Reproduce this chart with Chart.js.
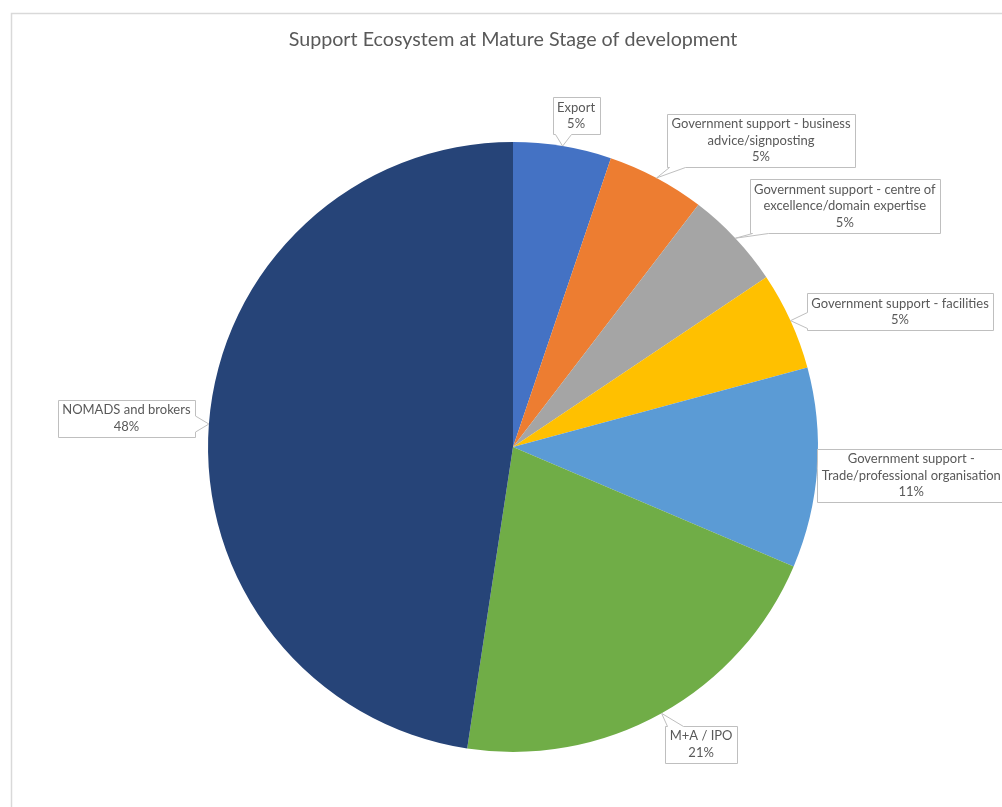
<!DOCTYPE html>
<html>
<head>
<meta charset="utf-8">
<title>Support Ecosystem at Mature Stage of development</title>
<script src="https://cdn.jsdelivr.net/npm/chart.js@4/dist/chart.umd.min.js"></script>
<style>
    html, body { margin: 0; padding: 0; background: #ffffff; }
    #grafica { width: 1002px; height: 807px; }
</style>
</head>
<body>
<div id="grafica"><canvas id="myChart" width="1002" height="807"></canvas></div>
<script>
var titulo = 'Support Ecosystem at Mature Stage of development'

// one entry per slice, each label already split into its lines
var categorias = [
    ['Export'],
    ['Government support - business', 'advice/signposting'],
    ['Government support - centre of', 'excellence/domain expertise'],
    ['Government support - facilities'],
    ['Government support -', 'Trade/professional organisation'],
    ['M+A / IPO'],
    ['NOMADS and brokers']
]
var valores = [5.2, 5.2, 5.2, 5.2, 10.6, 21.0, 47.6]

var colores = ['#4472C4', '#ED7D31', '#A5A5A5', '#FFC000', '#5B9BD5', '#70AD47', '#264478']

// where each callout box sits, measured from the middle of its slice's outer edge
var desplazamientos = [
    [13.5, -30.5],
    [104.5, -37.5],
    [109.5, -32],
    [109.5, -9],
    [94, 7.5],
    [39.5, 31],
    [-82.5, -5.5]
]

var gris_texto = '#595959'

function porcentaje(v) {
    var total = valores.reduce(function (a, b) { return a + b }, 0)
    return Math.round(v / total * 100) + '%'
}

// light frame around the chart
var marco = {
    id: 'marco',
    beforeDraw: function (chart) {
        var ctx = chart.ctx
        ctx.save()
        ctx.fillStyle = '#ffffff'
        ctx.fillRect(0, 0, chart.width, chart.height)
        ctx.strokeStyle = '#d9d9d9'
        ctx.lineWidth = 1.5
        ctx.strokeRect(11.5, 13.5, chart.width + 50, chart.height + 50)
        ctx.restore()
    }
}

// callout boxes with a pointer towards the slice
var etiquetas = {
    id: 'etiquetas',
    afterDatasetsDraw: function (chart) {
        var ctx = chart.ctx
        var meta = chart.getDatasetMeta(0)
        var alto_linea = 16.5
        ctx.save()
        ctx.font = '13px Lato'
        meta.data.forEach(function (arco, i) {
            var p = arco.getProps(['x', 'y', 'startAngle', 'endAngle', 'outerRadius'], true)
            var medio = (p.startAngle + p.endAngle) / 2
            var ax = p.x + Math.cos(medio) * p.outerRadius
            var ay = p.y + Math.sin(medio) * p.outerRadius

            var lineas = categorias[i].concat([porcentaje(valores[i])])
            var ancho = 0
            lineas.forEach(function (l) { ancho = Math.max(ancho, ctx.measureText(l).width) })
            ancho = ancho + 9
            var alto = lineas.length * alto_linea + 4

            var cx = ax + desplazamientos[i][0]
            var cy = ay + desplazamientos[i][1]
            var L = Math.round(cx - ancho / 2) + 0.5
            var R = Math.round(cx + ancho / 2) + 0.5
            var T = Math.round(cy - alto / 2) + 0.5
            var B = Math.round(cy + alto / 2) + 0.5

            var lado
            if (ay > B) lado = 'abajo'
            else if (ay < T) lado = 'arriba'
            else if (ax < L) lado = 'izq'
            else lado = 'der'

            var w = 8
            var bx = Math.min(Math.max(ax, L + w + 2), R - w - 2)
            var by = Math.min(Math.max(ay, T + w + 2), B - w - 2)

            ctx.beginPath()
            ctx.moveTo(L, T)
            if (lado == 'arriba') { ctx.lineTo(bx - w, T); ctx.lineTo(ax, ay); ctx.lineTo(bx + w, T) }
            ctx.lineTo(R, T)
            if (lado == 'der') { ctx.lineTo(R, by - w); ctx.lineTo(ax, ay); ctx.lineTo(R, by + w) }
            ctx.lineTo(R, B)
            if (lado == 'abajo') { ctx.lineTo(bx + w, B); ctx.lineTo(ax, ay); ctx.lineTo(bx - w, B) }
            ctx.lineTo(L, B)
            if (lado == 'izq') { ctx.lineTo(L, by + w); ctx.lineTo(ax, ay); ctx.lineTo(L, by - w) }
            ctx.closePath()
            ctx.fillStyle = '#ffffff'
            ctx.fill()
            ctx.strokeStyle = '#bfbfbf'
            ctx.lineWidth = 1
            ctx.stroke()

            ctx.fillStyle = gris_texto
            ctx.textAlign = 'center'
            ctx.textBaseline = 'middle'
            var y0 = cy - (lineas.length - 1) * alto_linea / 2
            lineas.forEach(function (l, k) {
                ctx.fillText(l, cx, y0 + k * alto_linea)
            })
        })
        ctx.restore()
    }
}

var ctx = document.getElementById('myChart').getContext('2d')
new Chart(ctx, {
    type: 'pie',
    data: {
        labels: categorias,
        datasets: [{
            data: valores,
            backgroundColor: colores,
            borderWidth: 0
        }]
    },
    options: {
        responsive: false,
        animation: false,
        layout: {
            padding: { left: 208, right: 184, top: 26, bottom: 55 }
        },
        plugins: {
            legend: { display: false },
            tooltip: { enabled: false },
            title: {
                display: true,
                text: titulo,
                color: gris_texto,
                font: { family: 'Lato', size: 19.7, weight: 'normal', lineHeight: 1.2 },
                padding: { top: 2, bottom: 90.4 }
            }
        }
    },
    plugins: [marco, etiquetas]
});
</script>
</body>
</html>
